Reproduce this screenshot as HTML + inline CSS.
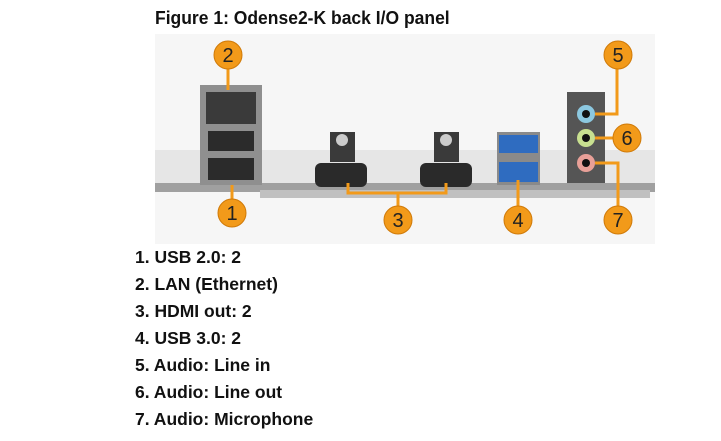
<!DOCTYPE html>
<html><head><style>
body{margin:0;width:721px;height:441px;background:#fff;position:relative;overflow:hidden;font-family:"Liberation Sans",sans-serif;}
.t{position:absolute;left:155px;top:7px;font-weight:bold;font-size:17.5px;color:#111;transform:scaleY(1.05);transform-origin:left top;}
.l{position:absolute;left:135px;font-weight:bold;font-size:17.5px;color:#111;}
svg{position:absolute;left:0;top:0}
</style></head><body>
<div class="t">Figure 1: Odense2-K back I/O panel</div>
<svg width="721" height="441">
<rect x="155" y="34" width="500" height="210" fill="#f6f6f6"/>
<rect x="155" y="150" width="500" height="35" fill="#dcdcdc" opacity="0.6"/>
<rect x="155" y="183" width="500" height="9" fill="#a0a0a0"/>
<rect x="260" y="190" width="390" height="8" fill="#c0c0c0"/>
<rect x="200" y="85" width="62" height="100" fill="#8f8f8f"/>
<rect x="206" y="92" width="50" height="32" fill="#3a3a3a"/>
<rect x="208" y="131" width="46" height="20" fill="#2b2b2b"/>
<rect x="208" y="158" width="46" height="22" fill="#2b2b2b"/>
<rect x="330" y="132" width="25" height="30" fill="#3a3a3a"/>
<circle cx="342" cy="140" r="6" fill="#ccc"/>
<rect x="315" y="163" width="52" height="24" rx="6" fill="#2a2a2a"/>
<rect x="434" y="132" width="25" height="30" fill="#3a3a3a"/>
<circle cx="446" cy="140" r="6" fill="#ccc"/>
<rect x="420" y="163" width="52" height="24" rx="6" fill="#2a2a2a"/>
<rect x="497" y="132" width="43" height="53" fill="#8a8a8a"/>
<rect x="499" y="135" width="39" height="18" fill="#2f6cc0"/>
<rect x="499" y="162" width="39" height="20" fill="#2f6cc0"/>
<rect x="567" y="92" width="38" height="91" fill="#555"/>
<circle cx="586" cy="114" r="9" fill="#8cc8e0"/><circle cx="586" cy="114" r="4" fill="#111"/>
<circle cx="586" cy="138" r="9" fill="#c8e090"/><circle cx="586" cy="138" r="4" fill="#111"/>
<circle cx="586" cy="163" r="9" fill="#e8a098"/><circle cx="586" cy="163" r="4" fill="#111"/>
<g stroke="#f29a1a" stroke-width="3" fill="none">
<polyline points="228,68 228,90"/>
<polyline points="232,185 232,200"/>
<polyline points="348,183 348,193 446,193 446,183"/>
<line x1="398" y1="193" x2="398" y2="206"/>
<polyline points="518,180 518,206"/>
<polyline points="595,114 617,114 617,68"/>
<line x1="595" y1="138" x2="613" y2="138"/>
<polyline points="595,163 618,163 618,206"/>
</g>
<g fill="#f29a1a" stroke="#d07a08" stroke-width="1">
<circle cx="228" cy="55" r="14"/><circle cx="232" cy="213" r="14"/>
<circle cx="398" cy="220" r="14"/><circle cx="518" cy="220" r="14"/>
<circle cx="618" cy="55" r="14"/><circle cx="627" cy="138" r="14"/>
<circle cx="618" cy="220" r="14"/>
</g>
<g font-family="Liberation Sans,sans-serif" font-size="20" fill="#222" text-anchor="middle">
<text x="228" y="62">2</text><text x="232" y="220">1</text>
<text x="398" y="227">3</text><text x="518" y="227">4</text>
<text x="618" y="62">5</text><text x="627" y="145">6</text>
<text x="618" y="227">7</text>
</g>
</svg>
<div class="l" style="top:247px">1. USB 2.0: 2</div>
<div class="l" style="top:274px">2. LAN (Ethernet)</div>
<div class="l" style="top:301px">3. HDMI out: 2</div>
<div class="l" style="top:328px">4. USB 3.0: 2</div>
<div class="l" style="top:355px">5. Audio: Line in</div>
<div class="l" style="top:382px">6. Audio: Line out</div>
<div class="l" style="top:409px">7. Audio: Microphone</div>
</body></html>
